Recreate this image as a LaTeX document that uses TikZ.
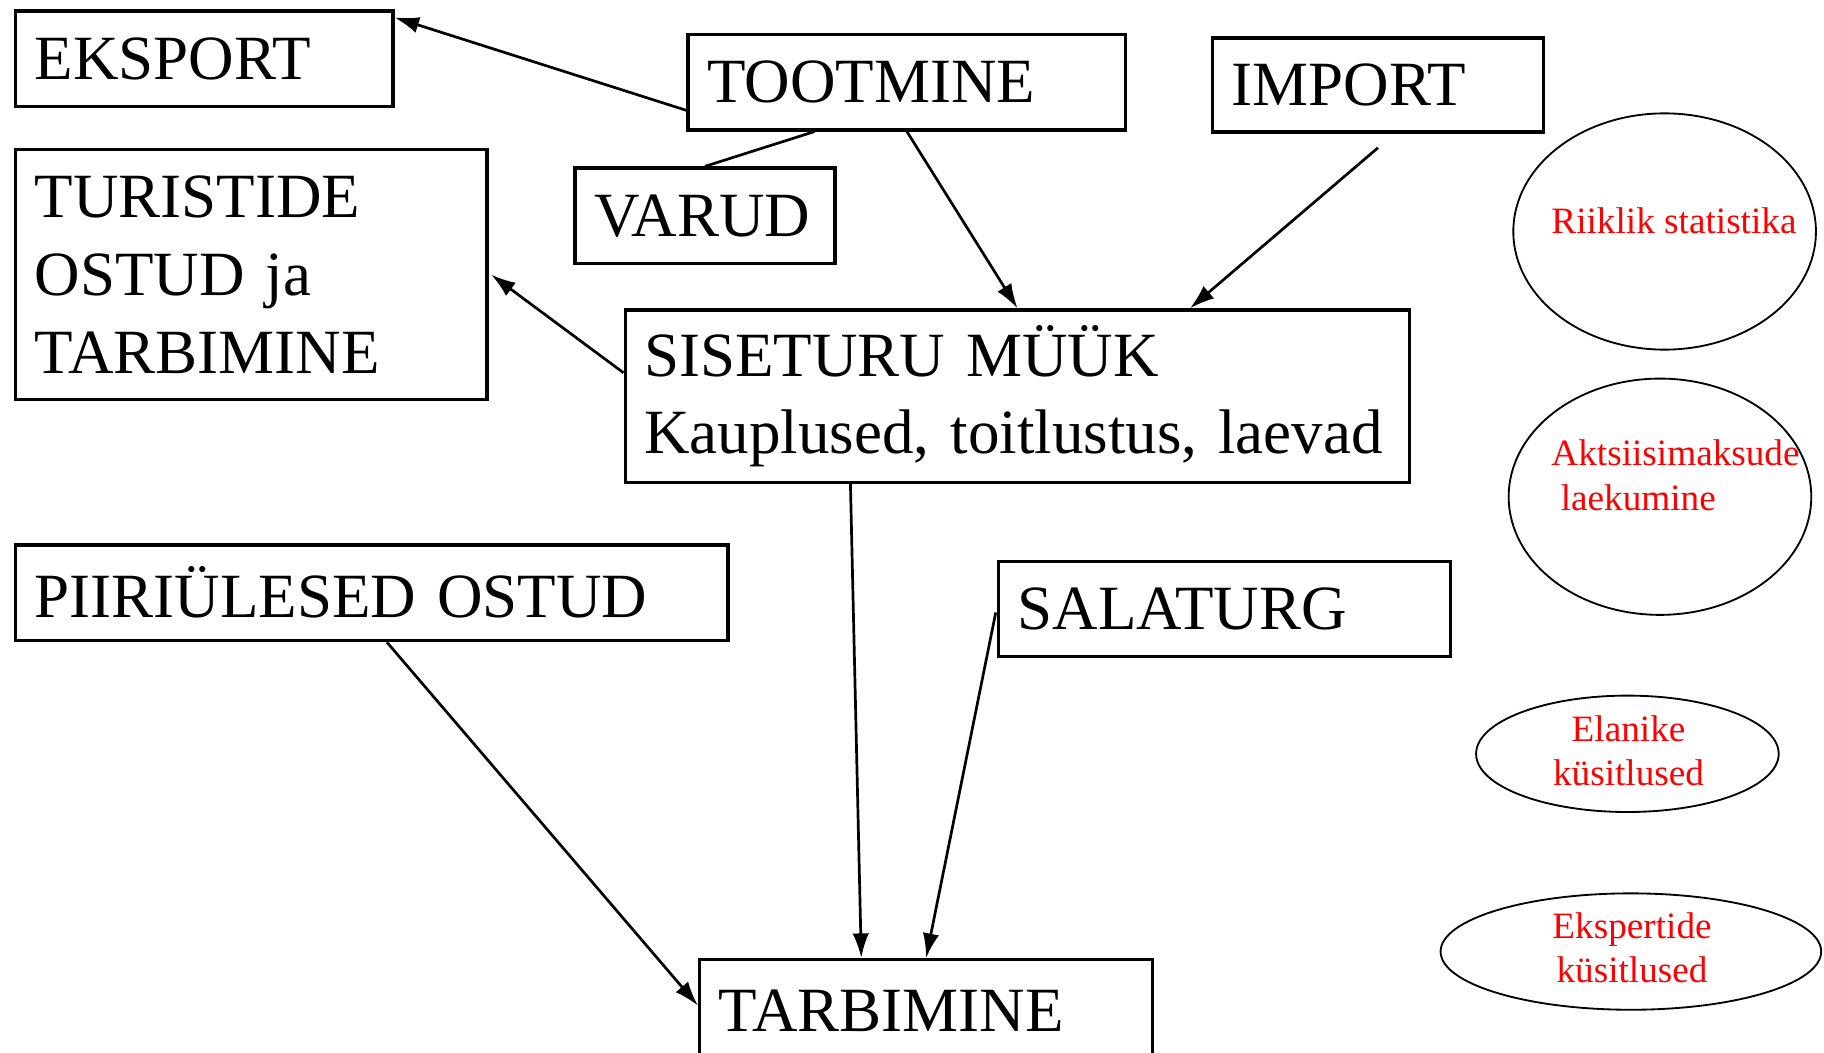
\documentclass[tikz,border=0pt]{standalone}
\usepackage{fontspec}
\setmainfont{Liberation Serif}
\usetikzlibrary{arrows.meta,calc,shapes.geometric}
\begin{document}
\begin{tikzpicture}[x=0.01cm,y=-0.01cm,
  box/.style={draw,line width=0.85pt,rectangle,anchor=north west,inner xsep=0.165cm,inner ysep=0pt,align=left,font=\fontsize{15.4}{19}\selectfont},
  ell/.style={draw,ellipse,line width=0.45pt,inner sep=0pt},
  redtxt/.style={text=red,font=\fontsize{9.1}{11.1}\selectfont,inner sep=0pt},
  arr/.style={line width=0.66pt,-{Latex[length=6pt,width=4pt]}},
  ln/.style={line width=0.66pt}]
\clip (0,0) rectangle (1568,905);
\fill[white] (0,0) rectangle (1568,905);

\node[box,text width=2.91cm,minimum height=0.82cm] (eksport) at (12,8) {EKSPORT};
\node[box,text width=3.43cm,minimum height=0.82cm] (toot) at (590,28) {TOOTMINE};
\node[box,text width=2.51cm,minimum height=0.81cm] (import) at (1041,31) {IMPORT};
\node[box,text width=1.90cm,minimum height=0.82cm] (varud) at (493,143) {VARUD};
\node[box,text width=3.72cm,minimum height=2.15cm] (turist) at (12,127) {TURISTIDE\\OSTUD ja\\TARBIMINE};
\node[box,text width=6.41cm,minimum height=1.48cm] (sise) at (536,265) {SISETURU MÜÜK\\Kauplused, toitlustus, laevad};
\node[box,text width=5.79cm,minimum height=0.82cm] (piiri) at (12,467) {PIIRIÜLESED OSTUD};
\node[box,text width=3.55cm,minimum height=0.82cm] (sala) at (857,481) {SALATURG};
\node[box,text width=3.56cm,minimum height=0.88cm] (tarb) at (600,823.5) {TARBIMINE};

\node[ell,minimum width=2.60cm,minimum height=2.03cm] (e1) at (1431,199) {};
\node[ell,minimum width=2.60cm,minimum height=2.03cm] (e2) at (1427,427) {};
\node[ell,minimum width=2.60cm,minimum height=1.00cm] (e3) at (1399,648) {};
\node[ell,minimum width=3.27cm,minimum height=1.00cm] (e4) at (1402,818) {};

\node[redtxt,anchor=base west] (t1) at (1333,201) {Riiklik statistika};
\node[redtxt,anchor=base west] (t2a) at (1333,400) {Aktsiisimaksude};
\node[redtxt,anchor=base west] (t2b) at (1341,439) {laekumine};
\node[redtxt,anchor=base] (t3a) at (1400,637) {Elanike};
\node[redtxt,anchor=base] (t3b) at (1400,675) {küsitlused};
\node[redtxt,anchor=base] (t4a) at (1403,807) {Ekspertide};
\node[redtxt,anchor=base] (t4b) at (1403,845) {küsitlused};

\draw[arr] ($(toot.north west)!0.786!(toot.south west)$) -- ($(eksport.north east)+(0,7)$);
\draw[ln] ($(toot.south west)!0.291!(toot.south east)$) -- (varud.north);
\draw[arr] (toot.south) -- (sise.north);
\draw[arr] ($(import.south)+(0,12)$) -- ($(sise.north west)!0.719!(sise.north east)$);
\draw[arr] ($(sise.north west)!0.367!(sise.south west)$) -- ($(turist.east)+(2,0)$);
\draw[arr] ($(sise.south west)!0.288!(sise.south east)$) -- ($(tarb.north west)!0.358!(tarb.north east)$);
\draw[arr] ($(sala.west)+(-1,3)$) -- (tarb.north);
\draw[arr] ($(piiri.south west)!0.521!(piiri.south east)$) -- ($(tarb.north west)!0.45!(tarb.south west)$);
\end{tikzpicture}
\end{document}
